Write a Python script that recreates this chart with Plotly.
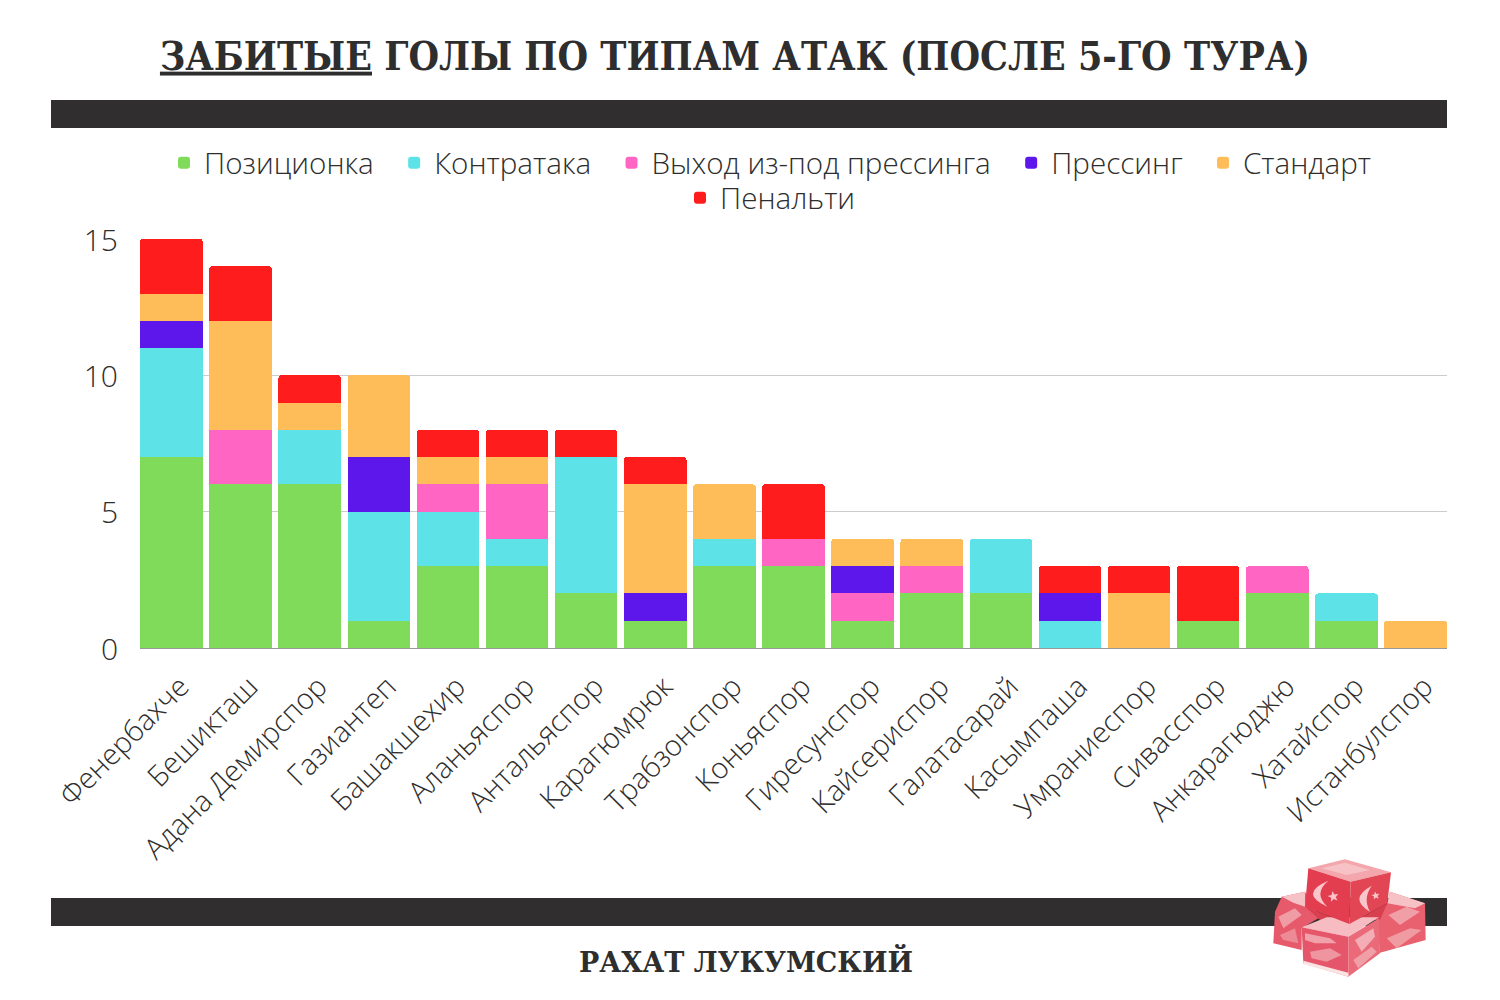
import math
import plotly.graph_objs as go

WIDTH = 1500
HEIGHT = 1000

teams = ['Фенербахче', 'Бешикташ', 'Адана Демирспор', 'Газиантеп', 'Башакшехир', 'Аланьяспор',
         'Антальяспор', 'Карагюмрюк', 'Трабзонспор', 'Коньяспор', 'Гиресунспор', 'Кайсериспор',
         'Галатасарай', 'Касымпаша', 'Умраниеспор', 'Сивасспор', 'Анкарагюджю', 'Хатайспор', 'Истанбулспор']

positional = [7, 6, 6, 1, 3, 3, 2, 1, 3, 3, 1, 2, 2, 0, 0, 1, 2, 1, 0]
counter = [4, 0, 2, 4, 2, 1, 5, 0, 1, 0, 0, 0, 2, 1, 0, 0, 0, 1, 0]
press_exit = [0, 2, 0, 0, 1, 2, 0, 0, 0, 1, 1, 1, 0, 0, 0, 0, 1, 0, 0]
pressing = [1, 0, 0, 2, 0, 0, 0, 1, 0, 0, 1, 0, 0, 1, 0, 0, 0, 0, 0]
set_piece = [1, 4, 1, 3, 1, 1, 0, 4, 2, 0, 1, 1, 0, 0, 2, 0, 0, 0, 1]
penalty = [2, 2, 1, 0, 1, 1, 1, 1, 0, 2, 0, 0, 0, 1, 1, 2, 0, 0, 0]

TEXT = '#2e2e2e'
BAND = '#302e2f'
SANS = 'Open Sans'
POWDER = '#f8d3d6'
MOON = '#fbc6cb'


def px(x):
    return x / WIDTH


def py(y):
    return 1 - y / HEIGHT


def zx(x):
    return px(1230 + x / 3)


def zy(y):
    return py(840 + y / 3)


def zpath(d, color, opacity=1):
    return dict(type='path', xref='paper', yref='paper', path=d, fillcolor=color,
                opacity=opacity, line=dict(width=0), layer='above')


def poly(points, color, opacity=1):
    d = 'M' + ' L'.join(f'{zx(x):.5f},{zy(y):.5f}' for x, y in points) + ' Z'
    return zpath(d, color, opacity)


def crescent(top, bottom, outer, inner):
    p = lambda q: f'{zx(q[0]):.5f},{zy(q[1]):.5f}'
    return zpath(f'M{p(top)} Q{p(outer)} {p(bottom)} Q{p(inner)} {p(top)} Z', MOON)


def star(cx, cy, r):
    points = []
    for i in range(10):
        radius = r if i % 2 == 0 else r * 0.42
        angle = math.radians(-90 + 36 * i - 10)
        points.append((cx + radius * math.cos(angle), cy + radius * math.sin(angle)))
    return poly(points, MOON)


def band(y0, y1):
    return dict(type='rect', xref='paper', yref='paper', x0=px(51), x1=px(1447), y0=py(y1), y1=py(y0),
                fillcolor=BAND, line=dict(width=0), layer='below')


fig = go.Figure()

series = [('Позиционка', positional, '#80db5b'), ('Контратака', counter, '#5ce2e7'),
          ('Выход из-под прессинга', press_exit, '#ff66c4'), ('Прессинг', pressing, '#5e17eb'),
          ('Стандарт', set_piece, '#ffbd59'), ('Пенальти', penalty, '#ff1c1c')]

for name, values, color in series:
    # plotly has no legend item gap, the nbsp pair opens it up to the reference spacing
    fig.add_trace(go.Bar(x=teams, y=[v if v else None for v in values], name=name + '\u00a0\u00a0',
                         marker_color=color, marker_line_width=0,
                         legend='legend2' if name == 'Пенальти' else 'legend'))

lukum = [
    poly([(135, 215), (155, 170), (225, 155), (270, 232), (215, 265), (215, 330), (130, 310)], '#e65a6c'),
    poly([(480, 155), (585, 190), (587, 300), (450, 338), (440, 235), (472, 190)], '#e9606f'),
    poly([(225, 200), (358, 252), (472, 190), (450, 240), (270, 240)], '#d9404f'),
    poly([(155, 170), (225, 155), (225, 200), (190, 188)], '#f6c2c6'),
    poly([(480, 155), (585, 190), (555, 205), (472, 190)], '#f6c2c6'),
    poly([(215, 262), (290, 232), (447, 232), (355, 290)], '#f6bcc1'),
    poly([(215, 262), (355, 290), (355, 410), (220, 370)], '#e6566a'),
    poly([(355, 290), (447, 235), (450, 340), (355, 410)], '#ea6a79'),
    poly([(220, 362), (355, 398), (355, 410), (220, 372)], '#fae3e3'),
    # powder blotches
    poly([(225, 280), (300, 295), (320, 310), (255, 310), (225, 300)], POWDER, 0.6),
    poly([(240, 335), (300, 325), (335, 345), (290, 365), (245, 355)], POWDER, 0.5),
    poly([(375, 300), (430, 265), (435, 290), (395, 335)], POWDER, 0.65),
    poly([(370, 360), (425, 320), (440, 335), (385, 385)], POWDER, 0.5),
    poly([(145, 230), (195, 205), (215, 225), (160, 265)], POWDER, 0.55),
    poly([(150, 285), (195, 265), (205, 310), (160, 300)], POWDER, 0.4),
    poly([(475, 225), (530, 200), (570, 215), (510, 255)], POWDER, 0.55),
    poly([(470, 295), (540, 265), (575, 270), (500, 325)], POWDER, 0.5),
    poly([(235, 85), (345, 58), (483, 97), (362, 125)], '#f3a7ad'),
    poly([(275, 85), (345, 68), (420, 90), (350, 105)], POWDER, 0.6),
    poly([(235, 85), (362, 125), (358, 252), (225, 200)], '#e33e50'),
    poly([(362, 125), (483, 97), (472, 190), (358, 252)], '#e24654'),
    crescent((295, 122), (292, 200), (205, 160), (249, 160)),
    crescent((425, 137), (420, 215), (354, 176), (398, 176)),
    star(310, 170, 17),
    star(437, 167, 13),
]

legend_font = dict(family=SANS, size=29.6, color=TEXT, weight=300)

fig.update_layout(
    width=WIDTH,
    height=HEIGHT,
    margin=dict(l=0, r=0, t=0, b=0, autoexpand=False),
    paper_bgcolor='white',
    plot_bgcolor='white',
    barmode='stack',
    bargap=0.095,
    barcornerradius=3,
    title=dict(text='<u>ЗАБИТЫЕ</u> ГОЛЫ ПО ТИПАМ АТАК (ПОСЛЕ 5-ГО ТУРА)',
               font=dict(family='DejaVu Serif Condensed', size=39, color=TEXT, weight=700),
               x=735 / WIDTH, xanchor='center', xref='paper', y=py(56), yanchor='middle', yref='paper',
               automargin=False),
    legend=dict(orientation='h', x=778 / WIDTH, xanchor='center', y=py(137), yanchor='top',
                font=legend_font, traceorder='normal', itemclick=False, bgcolor='rgba(0,0,0,0)'),
    legend2=dict(orientation='h', x=778 / WIDTH, xanchor='center', y=py(172), yanchor='top',
                 font=legend_font, itemclick=False, bgcolor='rgba(0,0,0,0)'),
    xaxis=dict(domain=[px(140), px(1447)], range=[-0.455, 18.455], tickangle=-45, showgrid=False,
               ticks='', automargin=False, ticklabelstandoff=9, ticklabelshift=9,
               tickfont=dict(family=SANS, size=29, color=TEXT, weight=300),
               linecolor='#999999', linewidth=1, showline=True),
    yaxis=dict(domain=[py(648), py(239)], range=[0, 15], tickvals=[0, 5, 10, 15], gridcolor='#cccccc',
               gridwidth=1, zeroline=False, ticks='', ticklabelstandoff=21, ticklabelshift=1, automargin=False,
               tickfont=dict(family=SANS, size=30, color=TEXT, weight=300)),
    shapes=[band(100, 128), band(898, 926)] + lukum,
    annotations=[dict(text='РАХАТ ЛУКУМСКИЙ', xref='paper', yref='paper', x=746 / WIDTH, y=py(961),
                      showarrow=False, xanchor='center', yanchor='middle',
                      font=dict(family='DejaVu Serif', size=27, color=TEXT, weight=700))],
)

fig.write_html('out.html', config={'displayModeBar': False}, post_script='document.body.style.margin = "0";')
